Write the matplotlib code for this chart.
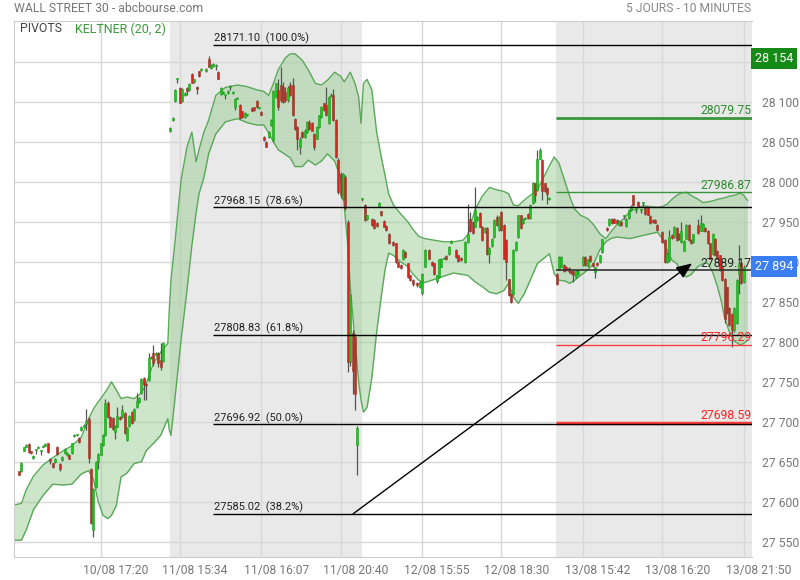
import numpy as np
import matplotlib
matplotlib.use('Agg')
import matplotlib.pyplot as plt
from matplotlib.transforms import blended_transform_factory, ScaledTranslation

plt.rcParams['font.family'] = ['Roboto', 'DejaVu Sans']

# 10 minute candles per day as (open, high, low, close); None = empty slot
d10 = [
    (27638, 27639, 27633, 27634), (27638, 27650, 27637, 27649), (27664, 27669, 27663, 27668),
    (27669, 27672, 27668, 27671), (27672, 27673, 27661, 27662), (27663, 27664, 27660, 27661),
    (27655, 27658, 27654, 27657), (27665, 27666, 27660, 27665), (27667, 27670, 27667, 27669),
    (27664, 27665, 27658, 27664), (27668, 27671, 27668, 27670), (27670, 27673, 27670, 27672),
    (27673, 27674, 27661, 27662), (27653, 27655, 27647, 27651), (27648, 27648, 27642, 27644),
    (27650, 27655, 27649, 27654), (27669, 27670, 27659, 27660), (27647, 27648, 27638, 27641),
    (27652, 27657, 27651, 27656), (27661, 27667, 27660, 27666), (27658, 27662, 27657, 27661),
    (27659, 27660, 27653, 27654), (27661, 27674, 27660, 27673), (27682, 27685, 27681, 27684),
    (27683, 27685, 27682, 27684), (27680, 27681, 27674, 27675), (27690, 27695, 27688, 27694),
    (27694, 27697, 27693, 27696), (27697, 27716, 27690, 27701), (27704, 27706, 27649, 27655),
    (27641, 27642, 27572, 27574), (27565, 27617, 27556, 27616), (27619, 27651, 27617, 27650),
    (27650, 27661, 27641, 27660), (27659, 27674, 27658, 27673), (27671, 27685, 27670, 27684),
    (27683, 27729, 27682, 27723), (27724, 27726, 27705, 27706), (27706, 27707, 27693, 27694),
    (27705, 27706, 27690, 27691), (27687, 27696, 27678, 27695), (27694, 27719, 27693, 27707),
    (27706, 27707, 27702, 27703), (27706, 27721, 27705, 27715), (27711, 27712, 27685, 27686),
    (27677, 27693, 27676, 27692), (27695, 27708, 27694, 27707), (27712, 27713, 27697, 27698),
    (27702, 27717, 27701, 27716), (27718, 27736, 27717, 27726), (27725, 27731, 27724, 27730),
    (27736, 27755, 27735, 27754), (27755, 27756, 27727, 27746), (27747, 27748, 27727, 27746),
    (27752, 27786, 27751, 27780), (27780, 27782, 27779, 27781), (27786, 27796, 27770, 27774),
    (27783, 27787, 27782, 27786), (27786, 27787, 27768, 27774), (27777, 27799, 27765, 27769),
    (27776, 27800, 27775, 27799), None, None,
]
d11 = [
    (28063, 28068, 28062, 28067), (28077, 28081, 28076, 28080), (28101, 28116, 28100, 28115),
    (28128, 28130, 28124, 28128), (28117, 28118, 28098, 28099), (28101, 28117, 28100, 28116),
    (28108, 28112, 28107, 28111), (28117, 28118, 28108, 28113), (28115, 28123, 28114, 28122),
    (28135, 28136, 28123, 28124), (28125, 28129, 28124, 28128), (28119, 28120, 28110, 28116),
    (28138, 28139, 28131, 28132), (28140, 28142, 28138, 28140), None,
    (28138, 28142, 28137, 28141), (28154, 28157, 28143, 28144), (28142, 28147, 28141, 28146),
    (28145, 28148, 28144, 28147), (28145, 28147, 28140, 28145), (28137, 28138, 28128, 28129),
    (28110, 28118, 28109, 28117), (28111, 28113, 28110, 28112), (28108, 28109, 28104, 28108),
    (28111, 28115, 28110, 28114), (28119, 28121, 28115, 28119), (28111, 28113, 28110, 28112),
    (28094, 28105, 28090, 28104), (28104, 28106, 28103, 28105), (28096, 28097, 28079, 28080),
    (28088, 28089, 28080, 28081), (28081, 28087, 28080, 28086), (28083, 28085, 28082, 28084),
    None,
    (28092, 28093, 28088, 28089), (28093, 28094, 28089, 28090), (28101, 28102, 28092, 28093),
    (28092, 28094, 28091, 28093), (28087, 28088, 28083, 28084), (28056, 28057, 28051, 28052),
    (28050, 28051, 28043, 28044), (28056, 28063, 28055, 28062), (28071, 28078, 28070, 28077),
    (28052, 28115, 28050, 28114), (28106, 28124, 28105, 28123), (28115, 28128, 28090, 28093),
    (28121, 28144, 28100, 28102), (28119, 28125, 28098, 28100), (28112, 28118, 28100, 28102),
    (28102, 28120, 28100, 28117), (28121, 28125, 28107, 28108), (28121, 28130, 28082, 28083),
    (28079, 28080, 28065, 28066), (28068, 28070, 28040, 28054), (28044, 28056, 28035, 28054),
    (28062, 28063, 28055, 28056), (28056, 28066, 28055, 28064), (28062, 28076, 28061, 28075),
    (28075, 28077, 28065, 28066), (28073, 28075, 28063, 28064), (28060, 28061, 28040, 28043),
    (28054, 28070, 28053, 28069), (28068, 28084, 28067, 28083), (28081, 28095, 28080, 28094),
    (28098, 28099, 28089, 28090), (28096, 28119, 28082, 28083), (28073, 28107, 28072, 28106),
    (28107, 28111, 28106, 28109), (28109, 28116, 28076, 28077), (28077, 28078, 28030, 28031),
    (28027, 28030, 27985, 27987), (28010, 28012, 27980, 27983), (27979, 28011, 27977, 28010),
    (28006, 28008, 27965, 27967), (27950, 27952, 27762, 27775), (27775, 27860, 27770, 27858),
    (27811, 27815, 27735, 27764), (27806, 27810, 27715, 27735), (27671, 27695, 27633, 27692),
    None,
]
d12 = [
    (27978, 27980, 27976, 27978), (27971, 27972, 27951, 27952), (27953, 27959, 27952, 27958),
    None,
    (27954, 27955, 27945, 27946), (27952, 27953, 27941, 27942), (27949, 27950, 27944, 27945),
    (27969, 27975, 27968, 27974), (27963, 27964, 27957, 27958), (27951, 27952, 27943, 27944),
    (27945, 27946, 27939, 27940), (27935, 27936, 27922, 27923), None,
    (27925, 27926, 27920, 27921), (27923, 27924, 27899, 27900), (27900, 27901, 27893, 27894),
    (27896, 27897, 27891, 27892), (27903, 27916, 27902, 27915), (27912, 27913, 27905, 27906),
    (27898, 27899, 27880, 27881), (27883, 27884, 27876, 27877), (27877, 27878, 27870, 27872),
    None,
    (27874, 27875, 27869, 27871), (27868, 27876, 27867, 27875), (27861, 27886, 27858, 27885),
    (27894, 27916, 27893, 27915), None,
    (27915, 27916, 27903, 27904), (27900, 27901, 27895, 27896), (27898, 27899, 27884, 27885),
    (27876, 27884, 27873, 27883), (27881, 27904, 27880, 27903), (27894, 27905, 27893, 27904),
    (27904, 27906, 27903, 27905), (27907, 27908, 27902, 27903), (27910, 27920, 27909, 27919),
    (27924, 27927, 27923, 27926), None,
    (27915, 27916, 27905, 27906), (27908, 27909, 27900, 27901), (27905, 27906, 27901, 27902),
    None,
    (27900, 27926, 27899, 27925), (27925, 27972, 27924, 27935), (27954, 27962, 27937, 27938),
    (27950, 27951, 27935, 27936), (27944, 27993, 27943, 27965), (27952, 27957, 27951, 27956),
    (27961, 27962, 27943, 27944), (27944, 27945, 27926, 27927), (27937, 27943, 27936, 27942),
    (27942, 27943, 27909, 27910), (27910, 27918, 27898, 27917), (27920, 27930, 27919, 27929),
    (27931, 27953, 27930, 27952), (27956, 27958, 27945, 27946), (27940, 27957, 27939, 27956),
    (27962, 27963, 27939, 27940), (27946, 27947, 27903, 27904), (27927, 27928, 27877, 27900),
    (27878, 27879, 27857, 27858), (27860, 27861, 27848, 27850), (27860, 27916, 27859, 27915),
    (27915, 27926, 27914, 27925), (27931, 27959, 27930, 27958), (27958, 27959, 27941, 27942),
    (27948, 27955, 27947, 27954), (27954, 27956, 27953, 27955), (27960, 27961, 27954, 27955),
    (27955, 27972, 27954, 27971), (27973, 28000, 27972, 27999), (27998, 27999, 27975, 27983),
    (27990, 28040, 27989, 28029), (28029, 28042, 28028, 28040), (28027, 28028, 27977, 27988),
    (27998, 27999, 27987, 27988), (27992, 27993, 27972, 27985), (27979, 27981, 27977, 27979),
    None, None,
]
d13 = [
    (27885, 27886, 27871, 27872), (27891, 27907, 27890, 27906), (27894, 27907, 27893, 27906),
    (27896, 27897, 27887, 27888), (27894, 27895, 27889, 27890), (27892, 27893, 27886, 27888),
    (27888, 27889, 27885, 27886), (27888, 27889, 27875, 27883), (27881, 27890, 27880, 27889),
    (27885, 27890, 27884, 27889), None,
    (27896, 27907, 27895, 27906), (27906, 27907, 27895, 27896), (27895, 27904, 27894, 27903),
    (27907, 27908, 27900, 27901), (27898, 27899, 27894, 27895), (27887, 27894, 27880, 27893),
    (27899, 27900, 27895, 27896), (27900, 27909, 27899, 27908), (27912, 27929, 27911, 27929),
    None,
    (27942, 27943, 27939, 27940), (27946, 27955, 27945, 27954), (27954, 27955, 27947, 27948),
    (27954, 27955, 27948, 27949), (27952, 27953, 27947, 27948), (27946, 27952, 27945, 27951),
    (27950, 27951, 27945, 27946), (27957, 27959, 27953, 27957), (27945, 27955, 27944, 27954),
    (27955, 27966, 27954, 27965), (27965, 27971, 27964, 27970), (27983, 27984, 27970, 27971),
    (27965, 27966, 27961, 27965), (27975, 27976, 27968, 27969), (27965, 27966, 27961, 27965),
    (27973, 27975, 27969, 27973), (27967, 27968, 27959, 27960), (27967, 27968, 27958, 27959),
    (27957, 27958, 27947, 27948), (27952, 27953, 27949, 27950), (27952, 27953, 27948, 27949),
    (27946, 27947, 27939, 27940), None,
    (27937, 27938, 27924, 27925), (27927, 27928, 27899, 27900), (27900, 27912, 27898, 27910),
    (27902, 27940, 27900, 27931), (27934, 27935, 27929, 27930), (27931, 27945, 27930, 27944),
    (27942, 27943, 27926, 27927), (27935, 27936, 27927, 27928), (27925, 27950, 27924, 27939),
    (27914, 27927, 27913, 27926), (27929, 27947, 27928, 27946), (27946, 27947, 27926, 27927),
    (27927, 27928, 27922, 27923), (27925, 27935, 27924, 27935), None,
    (27946, 27953, 27935, 27936), (27939, 27958, 27938, 27948), (27939, 27948, 27938, 27947),
    (27942, 27943, 27937, 27938), (27939, 27940, 27922, 27923), (27923, 27924, 27903, 27904),
    (27910, 27936, 27909, 27935), (27929, 27930, 27907, 27908), (27914, 27915, 27903, 27904),
    (27908, 27909, 27889, 27890), (27894, 27895, 27876, 27877), (27879, 27880, 27824, 27829),
    (27868, 27869, 27835, 27837), (27842, 27843, 27820, 27821), (27835, 27836, 27793, 27815),
    (27815, 27843, 27812, 27842), (27823, 27878, 27822, 27877), (27885, 27921, 27860, 27898),
    (27898, 27900, 27872, 27873), (27875, 27896, 27874, 27894),
]

# Keltner (20, 2) channel, sampled along the slot axis
band_t = [-2, 1, 3, 6, 10, 14, 18, 22, 26, 29, 31, 33, 35, 37, 38.5, 40.5, 42.5, 45, 48, 51,
          53, 56, 59, 62, 62.6, 63.3, 65, 67.5, 70, 72, 73.8, 75, 77, 79, 82, 86, 91, 95, 99,
          102, 104, 106, 108, 111, 113, 115, 118, 120.5, 123.5, 126, 128.5, 131.5, 134, 135.5,
          137, 138, 140, 141.5, 142.5, 143.5, 145, 147, 149, 151, 152.5, 154, 156, 159, 162,
          164, 166.5, 169, 173, 177, 181, 185, 187, 190, 193, 196, 199, 202, 204, 206, 208,
          210.5, 213, 216, 218.5, 221, 223, 225, 227.5, 229.5, 231.5, 234, 237, 239.5, 242,
          244.5, 246.5, 249, 252, 254.5, 260, 266, 268, 270, 272, 274, 276, 278, 280, 282.5,
          285, 287, 289, 291, 292.5, 294, 296, 298, 300.5, 302, 303.5]
band_up = [27596, 27598, 27615, 27632, 27646, 27655, 27663, 27670, 27681, 27704, 27716, 27725,
           27733, 27742, 27750, 27740, 27729, 27731, 27729, 27736, 27748, 27773, 27787, 27798,
           27840, 27877, 27925, 28002, 28044, 28062, 28025, 28040, 28062, 28077, 28108, 28118,
           28121, 28119, 28115, 28113, 28108, 28123, 28140, 28155, 28160, 28160, 28152, 28140,
           28123, 28121, 28127, 28137, 28132, 28125, 28132, 28137, 28123, 28106, 28073, 28123,
           28128, 28115, 28062, 28030, 28008, 27985, 27971, 27960, 27950, 27941, 27932, 27929,
           27927, 27925, 27925, 27927, 27934, 27965, 27982, 27993, 27990, 27988, 27985, 27971,
           27970, 27977, 27983, 27990, 28005, 28020, 28031, 28023, 28000, 27981, 27966, 27958,
           27954, 27946, 27935, 27929, 27937, 27946, 27954, 27963, 27970, 27968, 27969, 27972,
           27978, 27983, 27986, 27987, 27983, 27979, 27974, 27975, 27976, 27978, 27979, 27980,
           27982, 27983, 27986, 27983, 27977]
band_lo = [27552, 27552, 27565, 27590, 27608, 27622, 27621, 27622, 27635, 27639, 27628, 27600,
           27583, 27579, 27583, 27595, 27631, 27636, 27648, 27650, 27664, 27673, 27683, 27704,
           27690, 27683, 27730, 27802, 27865, 27920, 27962, 27985, 28005, 28035, 28060, 28075,
           28079, 28074, 28071, 28071, 28061, 28050, 28040, 28034, 28030, 28019, 28019, 28027,
           28021, 28026, 28035, 28026, 28005, 27970, 27920, 27870, 27800, 27750, 27727, 27712,
           27718, 27755, 27812, 27858, 27890, 27911, 27908, 27900, 27894, 27885, 27877, 27874,
           27878, 27882, 27886, 27884, 27883, 27875, 27869, 27862, 27860, 27864, 27873, 27856,
           27848, 27860, 27877, 27898, 27904, 27910, 27885, 27877, 27876, 27873, 27877, 27883,
           27890, 27898, 27915, 27925, 27929, 27931, 27930, 27929, 27933, 27937, 27929, 27915,
           27902, 27898, 27887, 27881, 27884, 27893, 27898, 27898, 27887, 27869, 27852, 27830,
           27812, 27801, 27796, 27798, 27802]

fib_levels = [28171.10, 27968.15, 27808.83, 27696.92, 27585.02]
fib_pcts = ['100.0%', '78.6%', '61.8%', '50.0%', '38.2%']
pivot_green = [28079.75, 27986.87]
pivot_red = [27796.29, 27698.59]
pivot_mid = 27889.17
session_high = 28154
last_price = 27894

tick_slots = [34, 67, 101, 134, 168, 201, 235, 268, 302]
tick_labels = ['10/08 17:20', '11/08 15:34', '11/08 16:07', '11/08 20:40', '12/08 15:55',
               '12/08 18:30', '13/08 15:42', '13/08 16:20', '13/08 21:50']
trend_start = (139.2, 27585.02)
trend_end = (280.4, 27898)

days = [d10, d11, d12, d13]
candles = d10 + d11 + d12 + d13
slots = np.array([i for i, k in enumerate(candles) if k is not None])
ohlc = np.array([candles[i] for i in slots], dtype=float)
o, h, l, c = ohlc.T
day_start = np.cumsum([0] + [len(d) for d in days])

fig = plt.figure(figsize=(8, 5.8), dpi=100)
ax = fig.add_axes([14 / 800, 1 - 557 / 580, 738 / 800, 536 / 580])
x0, x1 = -2.1, 305.4
ax.set_xlim(x0, x1)
ax.set_ylim(27531, 28201)

# alternate day shading (11/08 and 13/08)
ax.axvspan(day_start[1] - 0.1, day_start[2] - 0.1, color='#e9e9e9', lw=0, zorder=0)
ax.axvspan(day_start[3] - 0.1, x1, color='#e9e9e9', lw=0, zorder=0)

ax.set_axisbelow(True)
yt = np.arange(27550, 28151, 50)
ax.set_yticks(yt)
# the 28 150 label sits under the session high box
ax.set_yticklabels(['' if v == 28150 else f'{int(v):,}'.replace(',', ' ') for v in yt])
ax.set_xticks(tick_slots)
ax.set_xticklabels(tick_labels)
ax.grid(True, color='#d8d8d8', lw=1)
ax.yaxis.tick_right()
ax.tick_params(axis='both', length=0, colors='#777777', labelsize=8.7)
ax.tick_params(axis='y', pad=7)
ax.tick_params(axis='x', pad=5)
off = ScaledTranslation(15 / 100, 0, fig.dpi_scale_trans)
for lab in ax.get_xticklabels():
    lab.set_transform(lab.get_transform() + off)
for s in ['left', 'bottom', 'top']:
    ax.spines[s].set_color('#cccccc')
ax.spines['right'].set_visible(False)

# keltner channel
ax.fill_between(band_t, band_lo, band_up, color='#9ccf97', alpha=0.5, lw=0, zorder=1)
ax.plot(band_t, band_up, color='#5aa85a', lw=1, zorder=1.5)
ax.plot(band_t, band_lo, color='#5aa85a', lw=1, zorder=1.5)

# candles
up = c >= o
face = np.where(up, '#1ec81e', '#d2261e')
edge = np.where(up, '#18a018', '#8e3b2b')
ax.vlines(slots, l, h, color='#555555', lw=0.9, zorder=3)
ax.bar(slots, np.maximum(np.abs(c - o), 1.2), bottom=np.minimum(o, c), width=0.85,
       color=face, edgecolor=edge, lw=0.4, zorder=4)

# fibonacci levels
fib_x = 80.8
for lev, pct in zip(fib_levels, fib_pcts):
    ax.hlines(lev, fib_x, x1, color='black', lw=1, zorder=5)
    ax.text(fib_x + 0.3, lev + 0.6, f'{lev:.2f}  ({pct})', fontsize=7.9, color='#222222',
            va='bottom', ha='left', zorder=6)

# pivot levels
piv_x = 223.7
ax.hlines(pivot_green[0], piv_x, x1, color='#3a963a', lw=2, zorder=5)
ax.hlines(pivot_green[1], piv_x, x1, color='#3a963a', lw=1, zorder=5)
ax.hlines(pivot_red[0], piv_x, x1, color='#ff3b3b', lw=1, zorder=5)
ax.hlines(pivot_red[1], piv_x, x1, color='#ff3b3b', lw=2.5, zorder=4.9)
ax.hlines(pivot_mid, piv_x, x1, color='#333333', lw=1.2, zorder=5)
for lev, col in [(pivot_green[0], '#2e8b2e'), (pivot_green[1], '#2e8b2e'),
                 (pivot_mid, '#222222'), (pivot_red[0], '#ff2020'), (pivot_red[1], '#ff2020')]:
    ax.text(x1 - 0.2, lev + 0.8, f'{lev:.2f}', fontsize=8.7, color=col, ha='right',
            va='bottom', zorder=6)

# trend line with arrow
ax.annotate('', xy=trend_end, xytext=trend_start,
            arrowprops=dict(arrowstyle='-|>,head_length=0.95,head_width=0.4', color='black',
                            lw=1, mutation_scale=10, shrinkA=0, shrinkB=0), zorder=7)

# price boxes on the right scale
trans = blended_transform_factory(ax.transAxes, ax.transData)
ax.text(1.004, session_high, f'{session_high:,}'.replace(',', ' '), transform=trans,
        ha='left', va='center', color='white', fontsize=9, clip_on=False, zorder=10,
        bbox=dict(boxstyle='square,pad=0.3', fc='#168a16', ec='none'))
ax.text(1.004, last_price, f'{last_price:,}'.replace(',', ' '), transform=trans,
        ha='left', va='center', color='white', fontsize=9, clip_on=False, zorder=10,
        bbox=dict(boxstyle='square,pad=0.3', fc='#3b7df2', ec='none'))

fig.text(14 / 800, 1 - 9 / 580, 'WALL STREET 30 - abcbourse.com', color='#777777',
         fontsize=8.8, va='center', ha='left')
fig.text(751 / 800, 1 - 9 / 580, '5 JOURS - 10 MINUTES', color='#888888',
         fontsize=8.7, va='center', ha='right')
fig.text(20 / 800, 1 - 29 / 580, 'PIVOTS', color='#444444', fontsize=8.8, va='center')
fig.text(75 / 800, 1 - 29 / 580, 'KELTNER (20, 2)', color='#3a9a3a', fontsize=9, va='center')

fig.savefig('out.png', dpi=100, facecolor='white')
